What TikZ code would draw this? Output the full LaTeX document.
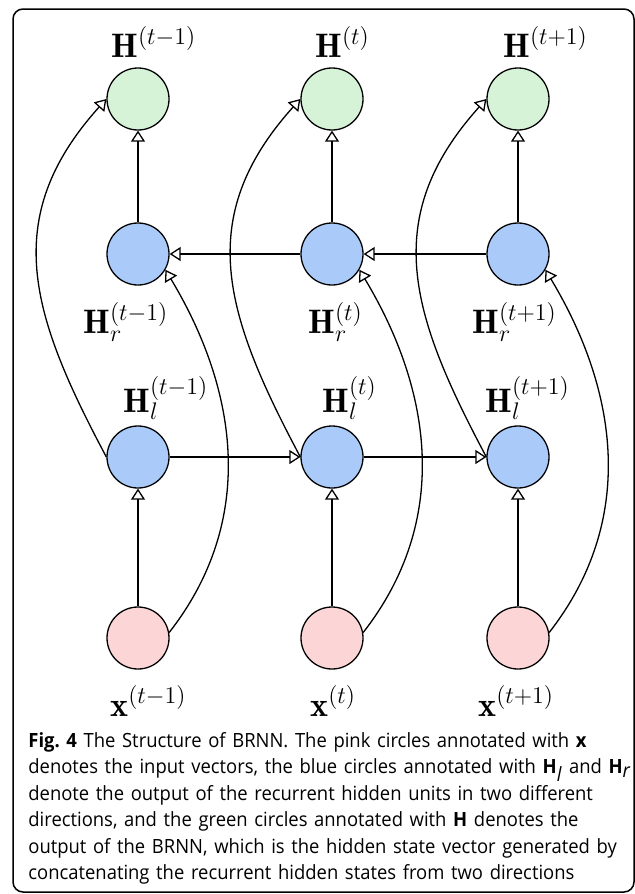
\documentclass[tikz,border=0pt]{standalone}
\usepackage{fontspec}
\usetikzlibrary{arrows.meta}

\newfontfamily\captionfont{Open Sans}[FakeStretch=0.94]

\definecolor{inputfill}{RGB}{252,213,214}
\definecolor{hiddenfill}{RGB}{170,203,250}
\definecolor{outputfill}{RGB}{214,243,215}

\tikzset{
  unit/.style={circle, draw, line width=0.65pt, minimum size=31pt, inner sep=0pt},
  input/.style={unit, fill=inputfill},
  hidden/.style={unit, fill=hiddenfill},
  output/.style={unit, fill=outputfill},
  vlabel/.style={font=\fontsize{17}{20}\selectfont, inner sep=0pt, anchor=base west},
  flow/.style={-{Triangle[open, length=5.5pt, width=7pt]}, line width=0.65pt}
}

\begin{document}
\begin{tikzpicture}[x=0.5pt, y=-0.5pt]
  \useasboundingbox (0,0) rectangle (635,894);
  \draw[line width=0.75pt, rounded corners=5pt] (13,9) rectangle (634,892);

  % output layer
  \node[output] (g1) at (138,99) {};
  \node[output] (g2) at (332,99) {};
  \node[output] (g3) at (518,99) {};

  % backward hidden layer
  \node[hidden] (r1) at (138,254) {};
  \node[hidden] (r2) at (332,254) {};
  \node[hidden] (r3) at (518,254) {};

  % forward hidden layer
  \node[hidden] (l1) at (138,457) {};
  \node[hidden] (l2) at (332,457) {};
  \node[hidden] (l3) at (518,457) {};

  % inputs
  \node[input] (x1) at (138,638) {};
  \node[input] (x2) at (332,638) {};
  \node[input] (x3) at (518,638) {};

  % annotations
  \node[vlabel] (g1t) at (111,57) {$\mathbf{H}^{(t-1)}$};
  \node[vlabel] (g2t) at (315,57) {$\mathbf{H}^{(t)}$};
  \node[vlabel] (g3t) at (503,57) {$\mathbf{H}^{(t+1)}$};
  \node[vlabel] (r1t) at (83,333) {$\mathbf{H}_r^{(t-1)}$};
  \node[vlabel] (r2t) at (308,333) {$\mathbf{H}_r^{(t)}$};
  \node[vlabel] (r3t) at (472,333) {$\mathbf{H}_r^{(t+1)}$};
  \node[vlabel] (l1t) at (123,412) {$\mathbf{H}_l^{(t-1)}$};
  \node[vlabel] (l2t) at (322,412) {$\mathbf{H}_l^{(t)}$};
  \node[vlabel] (l3t) at (485,412) {$\mathbf{H}_l^{(t+1)}$};
  \node[vlabel] (x1t) at (110,716) {$\mathbf{x}^{(t-1)}$};
  \node[vlabel] (x2t) at (310,716) {$\mathbf{x}^{(t)}$};
  \node[vlabel] (x3t) at (478,716) {$\mathbf{x}^{(t+1)}$};

  % recurrence in both directions
  \draw[flow] (l1.east) -- (l2.west);
  \draw[flow] (l2.east) -- (l3.west);
  \draw[flow] (r3.west) -- (r2.east);
  \draw[flow] (r2.west) -- (r1.east);

  \foreach \i in {1,2,3} {
    \draw[flow] (x\i.north) -- (l\i.south);
    \draw[flow] (r\i.north) -- (g\i.south);
    \draw[flow] (l\i.west) to[out=118, in=228, looseness=1.15] (g\i.west);
    \draw[flow] (x\i.10) to[out=52, in=-59] (r\i.-30);
  }

  \node[anchor=north west, inner sep=0pt, text width=302pt, align=left,
        font=\captionfont\frenchspacing] (caption) at (28,732)
    {\fontsize{9.8}{13.2}\selectfont
     \textbf{Fig. 4} The Structure of BRNN. The pink circles annotated with \textbf{x}\\
     denotes the input vectors, the blue circles annotated with \textbf{H}$_{\textit{l}}$ and \textbf{H}$_{\textit{r}}$\\
     denote the output of the recurrent hidden units in two different\\
     directions, and the green circles annotated with \textbf{H} denotes the\\
     output of the BRNN, which is the hidden state vector generated by\\
     concatenating the recurrent hidden states from two directions\par};
\end{tikzpicture}
\end{document}
